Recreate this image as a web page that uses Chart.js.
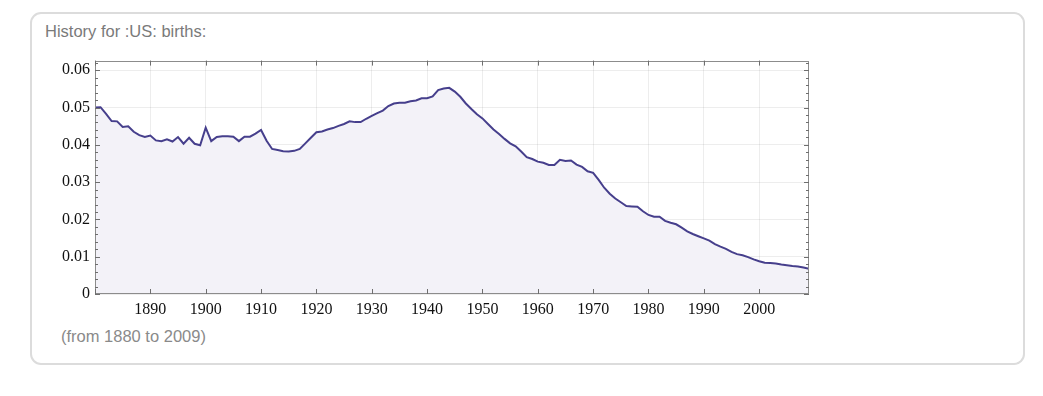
<!DOCTYPE html>
<html>
<head>
<meta charset="utf-8">
<script src="https://cdn.jsdelivr.net/npm/chart.js@4/dist/chart.umd.min.js"></script>
<style>
  html, body { margin: 0; padding: 0; background: #fff; }
  body { width: 1043px; height: 396px; position: relative; overflow: hidden; }
  .card { position: absolute; left: 30px; top: 12px; width: 991px; height: 349px;
          border: 2px solid #dcdcdc; border-radius: 11px; box-sizing: content-box; }
  .title { position: absolute; left: 45px; top: 22px; font: 16.5px "Liberation Sans", Arial, sans-serif; color: #7a7a7a; }
  .foot { position: absolute; left: 61px; top: 327px; font: 16.5px "Liberation Sans", Arial, sans-serif; color: #8a8a8a; }
  .wrap { position: absolute; left: 40px; top: 46px; width: 780px; height: 272px; }
</style>
</head>
<body>
<div class="card"></div>
<div class="title">History for :US: births:</div>
<div class="foot">(from 1880 to 2009)</div>
<div class="wrap"><canvas id="c"></canvas></div>
<script>
const startYear = 1880;
const endYear = 2009;
const births = [
  0.0500, 0.0501, 0.0483, 0.0464, 0.0463, 0.0448, 0.0450, 0.0435, 0.0426, 0.0421,
  0.0425, 0.0412, 0.0410, 0.0415, 0.0409, 0.0421, 0.0403, 0.0419, 0.0403, 0.0399,
  0.0446, 0.0410, 0.0421, 0.0423, 0.0423, 0.0422, 0.0410, 0.0422, 0.0422, 0.0430,
  0.0440, 0.0411, 0.0389, 0.0386, 0.0383, 0.0382, 0.0384, 0.0389, 0.0404, 0.0419,
  0.0434, 0.0436, 0.0441, 0.0445, 0.0451, 0.0456, 0.0463, 0.0461, 0.0461, 0.0470,
  0.0478, 0.0485, 0.0492, 0.0504, 0.0511, 0.0513, 0.0513, 0.0517, 0.0519, 0.0525,
  0.0525, 0.0530, 0.0547, 0.0551, 0.0553, 0.0543, 0.0529, 0.0511, 0.0496, 0.0482,
  0.0471, 0.0456, 0.0441, 0.0429, 0.0416, 0.0404, 0.0396, 0.0382, 0.0367, 0.0362,
  0.0355, 0.0352, 0.0346, 0.0346, 0.0360, 0.0357, 0.0358, 0.0347, 0.0341, 0.0329,
  0.0325, 0.0306, 0.0285, 0.0269, 0.0256, 0.0246, 0.0236, 0.0235, 0.0234, 0.0222,
  0.0212, 0.0207, 0.0207, 0.0196, 0.0191, 0.0187, 0.0178, 0.0168, 0.0161, 0.0155,
  0.0149, 0.0143, 0.0134, 0.0127, 0.0121, 0.0113, 0.0107, 0.0104, 0.0099, 0.0093,
  0.0088, 0.0084, 0.0083, 0.0082, 0.0079, 0.0077, 0.0075, 0.0074, 0.0071, 0.0068
];
const years = births.map((_, i) => startYear + i);
const xTickValues = [1880, 1890, 1900, 1910, 1920, 1930, 1940, 1950, 1960, 1970, 1980, 1990, 2000];
const xTickLabels = ["", "1890", "1900", "1910", "1920", "1930", "1940", "1950", "1960", "1970", "1980", "1990", "2000"];
const yTickValues = [0, 0.01, 0.02, 0.03, 0.04, 0.05, 0.06];
const yTickLabels = ["0", "0.01", "0.02", "0.03", "0.04", "0.05", "0.06"];
const yMax = 0.0626;
const yMinorStep = 0.002;

const frameTicks = {
  id: 'frameTicks',
  afterDraw(chart) {
    const { ctx, chartArea: a, scales } = chart;
    const x = scales.x, y = scales.y;
    ctx.save();
    ctx.strokeStyle = '#8c8c8c';
    ctx.lineWidth = 1;
    ctx.strokeRect(Math.round(a.left) + 0.5, Math.round(a.top) + 0.5,
                   Math.round(a.right - a.left) - 1, Math.round(a.bottom - a.top) - 1);
    ctx.strokeStyle = '#6e6e6e';
    ctx.beginPath();
    xTickValues.forEach(v => {
      const px = Math.round(x.getPixelForValue(v)) + 0.5;
      ctx.moveTo(px, a.bottom); ctx.lineTo(px, a.bottom - 5);
      ctx.moveTo(px, a.top); ctx.lineTo(px, a.top + 5);
    });
    const n = Math.floor(yMax / yMinorStep + 1e-9);
    for (let i = 0; i <= n; i++) {
      const v = i * yMinorStep;
      const major = Math.abs(v * 100 - Math.round(v * 100)) < 1e-6;
      const len = major ? 5 : 3;
      const py = Math.round(y.getPixelForValue(v)) + 0.5;
      ctx.moveTo(a.left, py); ctx.lineTo(a.left + len, py);
      ctx.moveTo(a.right, py); ctx.lineTo(a.right - len, py);
    }
    ctx.stroke();
    ctx.restore();
  }
};

new Chart(document.getElementById('c'), {
  type: 'line',
  data: {
    datasets: [{
      data: years.map((yr, i) => ({ x: yr, y: births[i] })),
      borderColor: '#463f8c',
      backgroundColor: '#f3f2f8',
      borderWidth: 2,
      pointRadius: 0,
      tension: 0,
      fill: 'origin'
    }]
  },
  options: {
    responsive: true,
    maintainAspectRatio: false,
    animation: false,
    layout: { padding: { top: 10, right: 11, left: 0, bottom: 0 } },
    plugins: { legend: { display: false }, tooltip: { enabled: false } },
    scales: {
      x: {
        type: 'linear',
        min: startYear,
        max: endYear,
        afterBuildTicks: s => { s.ticks = xTickValues.map(v => ({ value: v })); },
        afterFit: s => { s.height = 24; },
        ticks: {
          autoSkip: false,
          maxRotation: 0,
          padding: 6,
          color: '#111',
          font: { family: '"Liberation Serif", "Times New Roman", serif', size: 16 },
          callback: (v) => xTickLabels[xTickValues.indexOf(v)]
        },
        grid: { color: 'rgba(0,0,0,0.07)', drawTicks: false },
        border: { display: false }
      },
      y: {
        min: 0,
        max: yMax,
        afterBuildTicks: s => { s.ticks = yTickValues.map(v => ({ value: v })); },
        afterFit: s => { s.width = 55; },
        ticks: {
          padding: 5,
          color: '#111',
          font: { family: '"Liberation Serif", "Times New Roman", serif', size: 16 },
          callback: (v) => yTickLabels[yTickValues.indexOf(v)]
        },
        grid: { color: 'rgba(0,0,0,0.07)', drawTicks: false },
        border: { display: false }
      }
    }
  },
  plugins: [frameTicks]
});
</script>
</body>
</html>
